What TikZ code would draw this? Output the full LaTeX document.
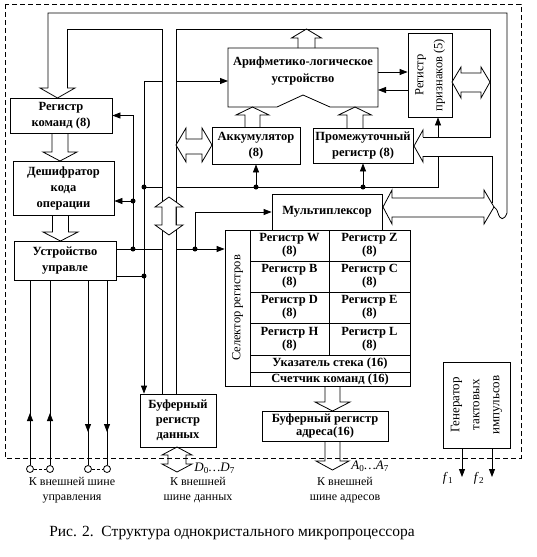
\documentclass[tikz,border=0pt]{standalone}
\usepackage{fontspec}
\setmainfont{Liberation Serif}
\usetikzlibrary{arrows.meta}
\newcommand\bxf{\fontsize{12.5}{15.5}\selectfont\bfseries}
\newcommand\busdn[6]{\draw[bus] ({#1-#4},#2) -- ({#1-#4},{#3-#6}) -- ({#1-#5},{#3-#6}) -- (#1,#3) -- ({#1+#5},{#3-#6}) -- ({#1+#4},{#3-#6}) -- ({#1+#4},#2);}
\newcommand\busupw[6]{\draw[bus] ({#1-#4},#2) -- ({#1-#4},{#3+#6}) -- ({#1-#5},{#3+#6}) -- (#1,#3) -- ({#1+#5},{#3+#6}) -- ({#1+#4},{#3+#6}) -- ({#1+#4},#2);}
\begin{document}
\begin{tikzpicture}[x=1pt,y=-1pt, line width=0.8pt,
  box/.style={draw, fill=white, inner sep=0.5pt, align=center, font=\bxf},
  cell/.style={draw, inner sep=0pt, align=center, font=\fontsize{12.5}{13}\selectfont\bfseries},
  lbl/.style={align=center, inner sep=0pt},
  arr/.style={-{Triangle[length=8pt,width=6pt]}},
  dot/.style={circle, fill, inner sep=0pt, minimum size=5pt},
  term/.style={circle, draw, fill=white, inner sep=0pt, minimum size=7pt},
  bus/.style={line width=0.8pt, line join=miter}]
\useasboundingbox (0,0) rectangle (536,557);
% dashed border
\draw[dash pattern=on 5pt off 3pt, line width=0.6pt] (5,4) rectangle (521,458);

% boxes
\node[box, minimum width=102, minimum height=35] (rk) at (61,115.5) {Регистр\\команд (8)};
\node[box, minimum width=101, minimum height=54, font=\fontsize{12.5}{16}\selectfont\bfseries] (dc) at (63.5,188) {Дешифратор\\кода\\операции};
\node[box, minimum width=102, minimum height=39] (uu) at (65,260.5) {Устройство\\управле};
\draw[fill=white] (228,48) -- (378,48) -- (378,107) -- (330,107) -- (303,95) -- (277,107) -- (228,107) -- cycle;
\node[lbl, font=\fontsize{12.5}{17}\selectfont\bfseries] (alu) at (303,71) {Арифметико-логическое\\устройство};
\coordinate (aluW) at (228,81);
\node[box, minimum width=44, minimum height=84] (rp) at (430,75) {};
\node[rotate=90, lbl, font=\fontsize{12.5}{19}\selectfont] at (rp.center) {Регистр\\признаков (5)};
\node[box, minimum width=88, minimum height=37] (acc) at (256,145.5) {Аккумулятор\\(8)};
\node[box, minimum width=100, minimum height=35] (pr) at (363,145.5) {Промежуточный\\регистр (8)};
\node[box, minimum width=110, minimum height=36] (mux) at (327,212) {Мультиплексор};
\node[box, minimum width=25, minimum height=156] (sel) at (237.5,308) {};
\node[rotate=90, lbl, font=\fontsize{12.5}{14}\selectfont] at (sel.center) {Селектор регистров};
\node[cell, minimum width=79, minimum height=31] (rW) at (289.5,245.5) {Регистр W\\(8)};
\node[cell, minimum width=81, minimum height=31] (rZ) at (369.5,245.5) {Регистр Z\\(8)};
\node[cell, minimum width=79, minimum height=31] (rB) at (289.5,276.5) {Регистр B\\(8)};
\node[cell, minimum width=81, minimum height=31] (rC) at (369.5,276.5) {Регистр C\\(8)};
\node[cell, minimum width=79, minimum height=31] (rD) at (289.5,307.5) {Регистр D\\(8)};
\node[cell, minimum width=81, minimum height=31] (rE) at (369.5,307.5) {Регистр E\\(8)};
\node[cell, minimum width=79, minimum height=32] (rH) at (289.5,339) {Регистр H\\(8)};
\node[cell, minimum width=81, minimum height=32] (rL) at (369.5,339) {Регистр L\\(8)};
\node[cell, minimum width=160, minimum height=17] (sp) at (330,363.5) {Указатель стека (16)};
\node[cell, minimum width=160, minimum height=14] (pc) at (330,379) {Счетчик команд (16)};
\node[box, minimum width=76, minimum height=53, font=\fontsize{12.5}{15}\selectfont\bfseries] (bd) at (178,420.5) {Буферный\\регистр\\данных};
\node[box, minimum width=126, minimum height=30, font=\fontsize{12.5}{13.5}\selectfont\bfseries] (ba) at (325,426) {Буферный регистр\\адреса(16)};
\node[box, minimum width=67, minimum height=86] (gen) at (476.5,405) {};
\node[rotate=90, lbl, font=\fontsize{13}{20}\selectfont] at (gen.center) {Генератор\\тактовых\\импульсов};

% internal bus
\draw[bus] (48,88) -- (48,13) -- (507,13) -- (507,213) .. controls (504,221) and (500,220) .. (498,213) .. controls (497,209) and (495,208) .. (494,207);
\draw[bus] (67,88) -- (67,29) -- (162,29) -- (162,394);
\draw[bus] (176,394) -- (176,29) -- (490,29) -- (490,137) -- (423,137);
\draw[bus] (423,156) -- (492,156) -- (492,203);
\draw[bus] (48,88) -- (40,88) -- (57.5,98) -- (75,88) -- (67,88);
\draw[bus, fill=white] (169,197) -- (183,207) -- (176,207) -- (176,225) -- (183,225) -- (169,235) -- (155,225) -- (162,225) -- (162,207) -- (155,207) -- cycle;
\busupw{306.5}{48}{29}{8.5}{15}{9}
\busupw{252.5}{127}{107}{7.5}{16.5}{8}
\busupw{355}{128}{107}{8}{16.5}{8}
\busdn{60}{133}{161}{8}{17}{9}
\busdn{60.5}{215}{241}{8}{17.5}{9}
\busdn{332.5}{386}{411}{7.5}{17.5}{9}
\busdn{332.5}{441}{470}{7.5}{16.5}{9}
\draw[bus, fill=white] (176,145) -- (186,128) -- (186,139) -- (202,139) -- (202,128) -- (212,145) -- (202,162) -- (202,154) -- (186,154) -- (186,162) -- cycle;
\draw[bus, fill=white] (452,82) -- (461,67) -- (461,73) -- (481,73) -- (481,67) -- (490,82) -- (481,98) -- (481,92) -- (461,92) -- (461,98) -- cycle;
\draw[bus, fill=white] (383,207) -- (392,190) -- (392,198) -- (484,198) -- (484,190) -- (494,207) -- (484,224) -- (484,217) -- (392,217) -- (392,224) -- cycle;
\draw[bus] (423,137) -- (423,130) -- (414,146) -- (423,162) -- (423,156);
\draw[bus] (177,447) -- (192,455) -- (186,455) -- (186,464) -- (192,464) -- (177,472) -- (162,464) -- (168,464) -- (168,455) -- (162,455) -- cycle;

% control lines
\draw[arr] (133,249) |- (rk.east);
\draw[arr] (133,201) -- (dc.east |- 0,201);
\draw (uu.east |- 0,249) -- (162,249);
\draw[arr] (176,249) -- (sel.west |- 0,249);
\draw[arr] (195,249) |- (mux.west);
\draw (uu.east |- 0,276) -- (144,276);
\draw[arr] (144,81) -- (bd.north -| 144,0);
\draw (144,81) -- (162,81);
\draw[arr] (176,81) -- (aluW);
\draw (144,187) -- (162,187);
\draw (176,187) -- (438,187) -- (438,156);
\draw[arr] (438,137) -- (rp.south -| 438,0);
\draw[arr] (256,187) -- (acc.south);
\draw[arr] (363,187) -- (pr.south);
\draw[arr] (378,72) -- (rp.west |- 0,72);
\draw[arr] (rp.west |- 0,90) -- (378,90);
\foreach \p in {(133,249),(195,249),(133,201),(144,187),(144,276),(256,187),(363,187)}
  \node[dot] at \p {};

% external control bus
\node[term] (t1) at (30,469) {};
\node[term] (t2) at (50,469) {};
\node[term] (t3) at (88,469) {};
\node[term] (t4) at (107,469) {};
\draw (uu.south -| t1) -- (t1);
\draw (uu.south -| t2) -- (t2);
\draw (uu.south -| t3) -- (t3);
\draw (uu.south -| t4) -- (t4);
\draw[arr] (30,440) -- (30,413);
\draw[arr] (50,440) -- (50,413);
\draw[arr] (88,405) -- (88,432);
\draw[arr] (107,405) -- (107,432);
\draw[dash pattern=on 3pt off 2pt] (t1) -- (t2);
\draw[dash pattern=on 3pt off 2pt] (t3) -- (t4);

% generator outputs
\draw[arr] (gen.south -| 462,0) -- (462,477);
\draw[arr] (gen.south -| 492,0) -- (492,477);

% labels
\node[lbl, font=\fontsize{12}{15}\selectfont] at (72,490) {К внешней шине\\управления};
\node[lbl, font=\fontsize{12}{15}\selectfont] at (198,490) {К внешней\\шине данных};
\node[lbl, font=\fontsize{12}{15}\selectfont] at (345,490) {К внешней\\шине адресов};
\node[lbl, font=\fontsize{13}{15}\selectfont, anchor=west] at (194,468) {\textit{D}\textsubscript{0}\textit{…D}\textsubscript{7}};
\node[lbl, font=\fontsize{13}{15}\selectfont, anchor=west] at (351,466) {\textit{A}\textsubscript{0}\textit{…A}\textsubscript{7}};
\node[lbl, font=\fontsize{13}{15}\selectfont] at (448,478) {\textit{f}\textsubscript{1}};
\node[lbl, font=\fontsize{13}{15}\selectfont] at (479,478) {\textit{f}\textsubscript{2}};
\node[lbl, font=\fontsize{15.5}{17}\selectfont] at (232,533) {Рис. 2.\ \ Структура однокристального микропроцессора};
\end{tikzpicture}
\end{document}
